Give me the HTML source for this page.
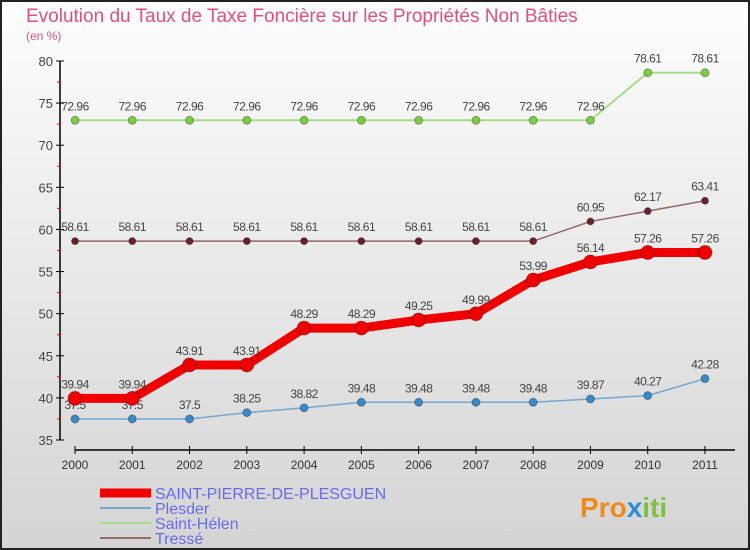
<!DOCTYPE html>
<html><head><meta charset="utf-8"><style>
body{margin:0}
#c{width:750px;height:550px;position:relative;overflow:hidden}
</style></head><body>
<div id="c">
<svg id="s" width="750" height="550" xmlns="http://www.w3.org/2000/svg" font-family="Liberation Sans, DejaVu Sans, sans-serif">
<defs><linearGradient id="bg" x1="0" y1="0" x2="0" y2="1"><stop offset="0" stop-color="#fdfdfd"/><stop offset="1" stop-color="#d4d4d4"/></linearGradient></defs>
<rect x="1" y="1" width="748" height="548" fill="url(#bg)" stroke="#222" stroke-width="2"/>
<text x="26" y="22" font-size="19" fill="#e0507a">Evolution du Taux de Taxe Foncière sur les Propriétés Non Bâties</text>
<text x="26" y="40" font-size="12" fill="#e0507a">(en %)</text>
<g id="axes"></g><g id="series"></g><g id="legend"></g>
<text x="580" y="517" font-size="28" font-weight="bold" fill="#f08a1c">Pro<tspan fill="#2a8fd6">x</tspan><tspan fill="#7fc241">iti</tspan></text>
</svg></div>
<script>
const years=[2000,2001,2002,2003,2004,2005,2006,2007,2008,2009,2010,2011];
const yTicks=[35,40,45,50,55,60,65,70,75,80];
const sp=[39.94,39.94,43.91,43.91,48.29,48.29,49.25,49.99,53.99,56.14,57.26,57.26];
const plesder=[37.5,37.5,37.5,38.25,38.82,39.48,39.48,39.48,39.48,39.87,40.27,42.28];
const helen=[72.96,72.96,72.96,72.96,72.96,72.96,72.96,72.96,72.96,72.96,78.61,78.61];
const tresse=[58.61,58.61,58.61,58.61,58.61,58.61,58.61,58.61,58.61,60.95,62.17,63.41];
const names=["SAINT-PIERRE-DE-PLESGUEN","Plesder","Saint-Hélen","Tressé"];
const NS="http://www.w3.org/2000/svg";
const X=i=>75+i*(630/11), Y=v=>440-(v-35)*(379/45);
function mk(p,t,a){const e=document.createElementNS(NS,t);for(const k in a)e.setAttribute(k,a[k]);p.appendChild(e);return e;}
const ax=document.getElementById('axes');
let e=mk(ax,'line',{x1:60,y1:61,x2:60,y2:440,stroke:'#000','stroke-width':1.5});

e=mk(ax,'line',{x1:75,y1:450,x2:735,y2:450,stroke:'#000','stroke-width':1.5});

yTicks.forEach((v,i)=>{
 mk(ax,'line',{x1:56,y1:Y(v),x2:64,y2:Y(v),stroke:'#000'});
 if(i<yTicks.length-1)mk(ax,'line',{x1:57,y1:Y(v+2.5),x2:61,y2:Y(v+2.5),stroke:'#e00'});
 const t=mk(ax,'text',{x:53,y:Y(v)+5,'text-anchor':'end','font-size':13,fill:'#444'});t.textContent=v;
 
});
years.forEach((y,i)=>{
 mk(ax,'line',{x1:X(i),y1:446,x2:X(i),y2:454,stroke:'#000'});
 const t=mk(ax,'text',{x:X(i),y:469,'text-anchor':'middle','font-size':12,fill:'#333'});t.textContent=y;
 
});
const sg=document.getElementById('series');
function series(data,name,lc,pc,w,r,fs){
 const g=mk(sg,'g',{});
 const pts=data.map((v,i)=>X(i)+','+Y(v)).join(' ');
 mk(g,'polyline',{points:pts,fill:'none',stroke:lc,'stroke-width':w,'stroke-linejoin':'round'});
 data.forEach((v,i)=>{
  const c=mk(g,'circle',{cx:X(i),cy:Y(v),r:r,fill:pc,stroke:'rgba(0,0,0,0.3)'});
  
  const t=mk(g,'text',{x:X(i),y:Y(v)-10,'text-anchor':'middle','font-size':12,fill:'#444','letter-spacing':'-0.5'});t.textContent=v;
  
 });
}
series(helen,'saint-helen','#a8dc8a','#7ccc44',2,4);
series(tresse,'tresse','#946868','#6a2030',1.5,3.5);
series(plesder,'plesder','#74a8d0','#3a8ac8',1.5,4);
series(sp,'saint-pierre','#f00000','#f00000',9,7);
const lg=document.getElementById('legend');
const lcols=['#f00000','#74a8d0','#a8dc8a','#946868'],lw=[9,2,2,2];
names.forEach((n,i)=>{
 const y=493+i*15;
 const g=mk(lg,'g',{});
 mk(g,'line',{x1:100,y1:y,x2:151,y2:y,stroke:lcols[i],'stroke-width':lw[i]});
 const t=mk(g,'text',{x:155,y:y+6,'font-size':16,fill:'#6a6af0'});t.textContent=n;
});
</script>
</body></html>
